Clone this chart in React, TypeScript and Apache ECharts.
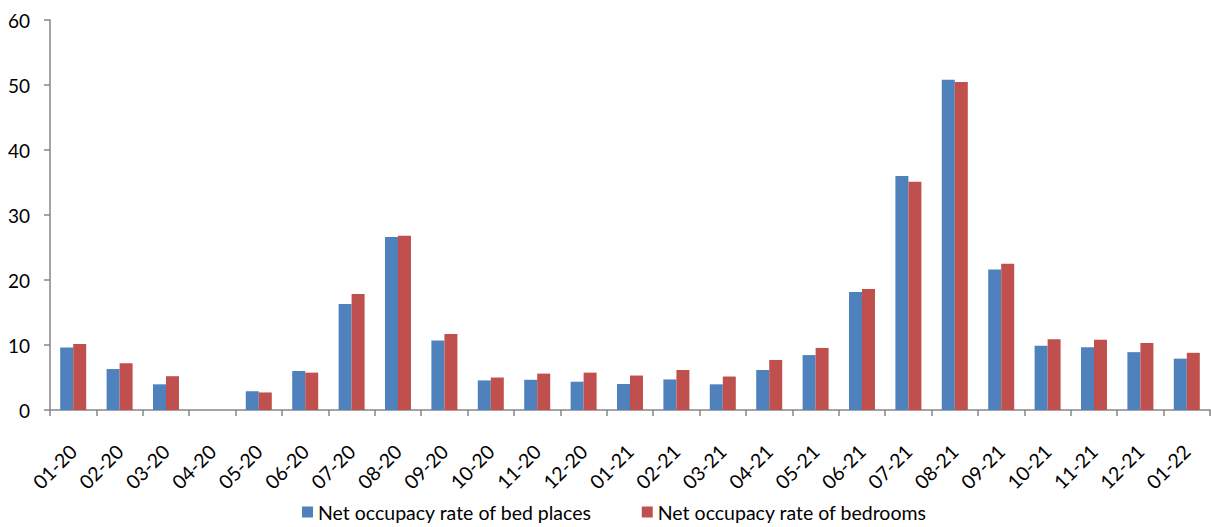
import React, { useEffect, useRef } from "react";
import * as echarts from "echarts";

const categories = [
  "01-20", "02-20", "03-20", "04-20", "05-20", "06-20", "07-20", "08-20", "09-20",
  "10-20", "11-20", "12-20", "01-21", "02-21", "03-21", "04-21", "05-21", "06-21",
  "07-21", "08-21", "09-21", "10-21", "11-21", "12-21", "01-22",
];

const bedPlaces = [
  9.6, 6.3, 3.95, 0, 2.9, 6.0, 16.3, 26.6, 10.7,
  4.55, 4.65, 4.35, 4.0, 4.7, 3.95, 6.15, 8.45, 18.15,
  36.0, 50.8, 21.6, 9.9, 9.65, 8.9, 7.9,
];

const bedrooms = [
  10.15, 7.2, 5.2, 0, 2.7, 5.75, 17.85, 26.8, 11.7,
  5.0, 5.6, 5.75, 5.3, 6.15, 5.15, 7.7, 9.55, 18.6,
  35.1, 50.45, 22.5, 10.9, 10.8, 10.3, 8.8,
];

const seriesNames = ["Net occupacy rate of bed places", "Net occupacy rate of bedrooms"];
const yTicks = { min: 0, max: 60, interval: 10 };

const FONT = "Lato, 'Open Sans', sans-serif";

export default function App() {
  const ref = useRef<HTMLDivElement>(null);
  useEffect(() => {
    if (!ref.current) return;
    const chart = echarts.init(ref.current, null, { renderer: "svg" });
    chart.setOption({
      animation: false,
      textStyle: { fontFamily: FONT },
      grid: { left: 50, right: 1, top: 20, bottom: 117, containLabel: false },
      legend: {
        bottom: 0,
        left: 297,
        itemWidth: 11,
        itemHeight: 11,
        itemGap: 50,
        icon: "rect",
        textStyle: { fontSize: 19.5, color: "#000", fontFamily: FONT },
        data: seriesNames,
      },
      xAxis: {
        type: "category",
        data: categories,
        axisLine: { lineStyle: { color: "#868686", width: 1.5 } },
        axisTick: { show: true, alignWithLabel: false, length: 6, lineStyle: { color: "#868686", width: 1.5 } },
        axisLabel: { rotate: 45, fontSize: 19.5, color: "#000", margin: 38, interval: 0, fontFamily: FONT },
      },
      yAxis: {
        type: "value",
        min: yTicks.min,
        max: yTicks.max,
        interval: yTicks.interval,
        axisLine: { show: true, lineStyle: { color: "#868686", width: 1.5 } },
        axisTick: { show: true, length: 6, lineStyle: { color: "#868686", width: 1.5 } },
        splitLine: { show: false },
        axisLabel: { fontSize: 19, color: "#000", margin: 20, fontFamily: FONT },
      },
      series: [
        {
          name: seriesNames[0],
          type: "bar",
          data: bedPlaces,
          barWidth: 13,
          barGap: "0%",
          itemStyle: { color: "#4F81BD" },
        },
        {
          name: seriesNames[1],
          type: "bar",
          data: bedrooms,
          barWidth: 13,
          barGap: "0%",
          itemStyle: { color: "#C0504D" },
        },
      ],
    });
    return () => chart.dispose();
  }, []);
  return <div ref={ref} style={{ width: 1211, height: 527, position: "absolute", left: 0, top: 0 }} />;
}
